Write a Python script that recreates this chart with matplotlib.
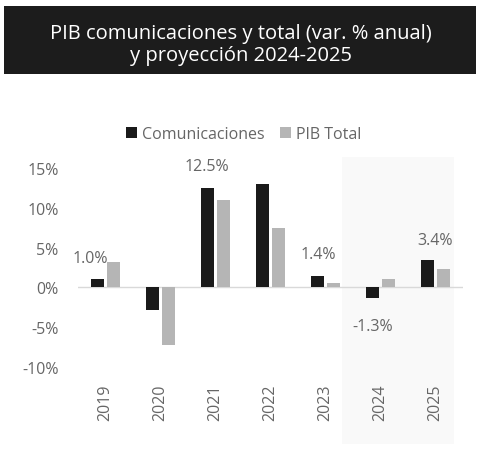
import numpy as np
import matplotlib.pyplot as plt
from matplotlib.patches import Rectangle

years = ["2019", "2020", "2021", "2022", "2023", "2024", "2025"]
comunicaciones = [1.0, -2.8, 12.5, 13.0, 1.4, -1.3, 3.4]
pib_total = [3.2, -7.2, 11.0, 7.5, 0.5, 1.1, 2.3]
labels = ["1.0%", None, "12.5%", None, "1.4%", "-1.3%", "3.4%"]
yticks = [-10, -5, 0, 5, 10, 15]

plt.rcParams['font.family'] = ['Open Sans', 'DejaVu Sans']
grey_txt = "#666666"

fig = plt.figure(figsize=(4.82, 4.52), dpi=100)

# title box
fig.patches.append(Rectangle((4/482, 1-75/452), 472/482, 68/452, transform=fig.transFigure,
                             facecolor="#1c1c1c", edgecolor="none", zorder=0))
fig.text(0.5, 1-45/452, "PIB comunicaciones y total (var. % anual)\ny proyección 2024-2025",
         ha="center", va="center", color="white", fontsize=14.5, linespacing=1.1)

# projection shading
fig.patches.append(Rectangle((342/482, 1-445/452), 112/482, 287/452, transform=fig.transFigure,
                             facecolor="#f9f9f9", edgecolor="none", zorder=0))

ax = fig.add_axes([78/482, 1-368/452, 385/482, 199/452])
ax.set_zorder(2)
ax.patch.set_alpha(0)
x = np.arange(len(years))
w = 0.24
ax.bar(x - 0.145, comunicaciones, w, color="#1a1a1a", label="Comunicaciones")
ax.bar(x + 0.145, pib_total, w, color="#b5b5b5", label="PIB Total")

ax.axhline(0, color="#d9d9d9", lw=1, zorder=0)
ax.set_xlim(-0.5, len(years) - 0.5)
ax.set_ylim(-10, 15)
ax.set_yticks(yticks)
ax.set_yticklabels([f"{t}%" for t in yticks])
ax.set_xticks(x)
ax.set_xticklabels(years, rotation=90)
ax.tick_params(length=0, colors=grey_txt, labelsize=11.5)
ax.tick_params(axis="y", pad=14)
ax.tick_params(axis="x", pad=12)
for s in ax.spines.values():
    s.set_visible(False)

# data labels (placed by hand like the original)
offsets = {0: (-0.28, 3.7), 2: (-0.15, 15.3), 4: (-0.14, 4.2), 5: (-0.14, -4.8), 6: (0.0, 6.0)}
for i, (dx, yy) in offsets.items():
    ax.text(x[i] + dx, yy, labels[i], ha="center", va="center", color=grey_txt, fontsize=11.5)

ax.legend(loc="lower center", bbox_to_anchor=(0.43, 1.06), ncol=2, frameon=False,
          handlelength=0.7, handletextpad=0.3, columnspacing=1.0, fontsize=11.5,
          labelcolor=grey_txt)

fig.savefig("out.png", dpi=100)
